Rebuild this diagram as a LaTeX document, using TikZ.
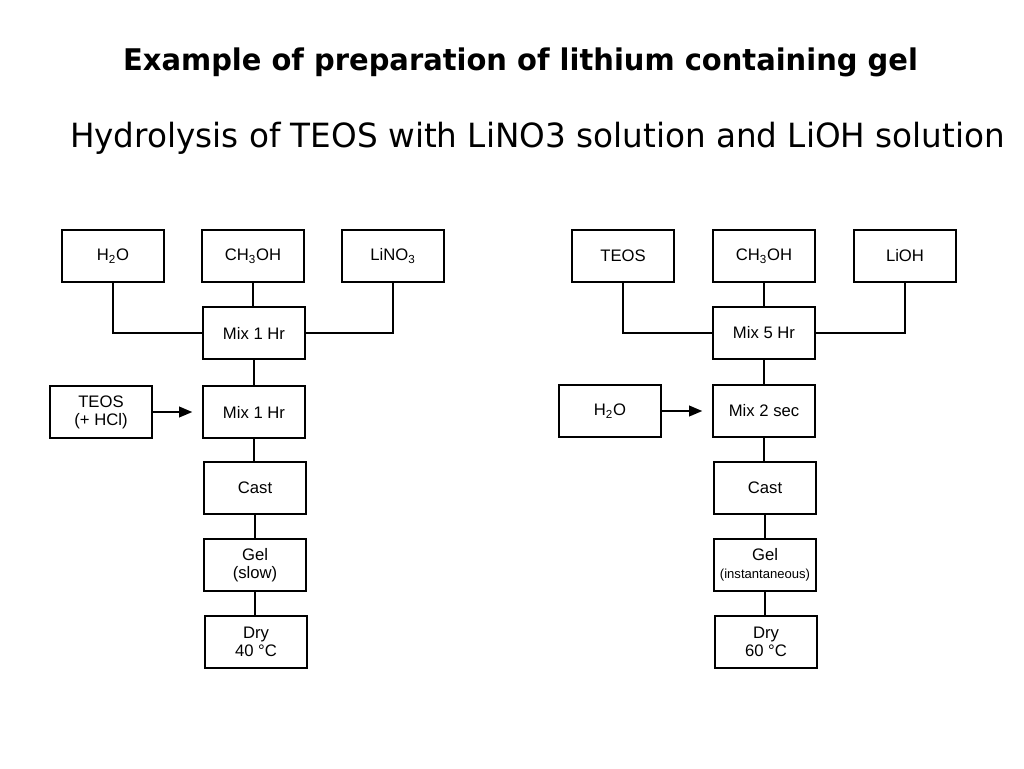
\documentclass[tikz,border=0pt]{standalone}
\usepackage{fontspec}
\usepackage{graphicx}
\setmainfont{Liberation Sans}
\newfontfamily\titlefont{DejaVu Sans}
\usetikzlibrary{arrows.meta}
\newcommand\boxfont{\fontsize{12.5pt}{13.5pt}\selectfont}
\begin{document}
\begin{tikzpicture}[x=0.75pt,y=-0.75pt,
  stepbox/.style={draw, line width=1.5pt, minimum width=77pt, minimum height=39pt,
    inner sep=0pt, align=center, font=\boxfont},
  link/.style={line width=1.5pt},
  feed/.style={line width=1.5pt, -{Triangle[length=10pt,width=8pt]}, shorten >=7pt}]
\useasboundingbox (0,0) rectangle (1024,768);
\node (title) at (520.5,62) {\resizebox{596pt}{17pt}{\titlefont\bfseries Example of preparation of lithium containing gel}};
\node (sub) at (537.5,138) {\resizebox{701pt}{19pt}{\titlefont Hydrolysis of TEOS with LiNO3 solution and LiOH solution}};

% left flow
\node[stepbox] (h2oL) at (113,256) {H\textsubscript{2}O};
\node[stepbox] (ch3L) at (253,256) {CH\textsubscript{3}OH};
\node[stepbox] (lino3) at (393,256) {LiNO\textsubscript{3}};
\node[stepbox] (mixA) at (254,333) {Mix 1 Hr};
\node[stepbox] (mixB) at (254,412) {Mix 1 Hr};
\node[stepbox] (teosL) at (101,412) {TEOS\\(+ HCl)};
\node[stepbox] (castL) at (255,488) {Cast};
\node[stepbox] (gelL) at (255,565) {Gel\\(slow)};
\node[stepbox] (dryL) at (256,642) {Dry\\40 °C};
\draw[link] (h2oL.south) |- (mixA.west);
\draw[link] (lino3.south) |- (mixA.east);
\draw[link] (ch3L.south) -- (ch3L.south |- mixA.north);
\draw[link] (mixA.south) -- (mixB.north);
\draw[feed] (teosL.east) -- (mixB.west);
\draw[link] (mixB.south) -- (mixB.south |- castL.north);
\draw[link] (castL.south) -- (gelL.north);
\draw[link] (gelL.south) -- (gelL.south |- dryL.north);

% right flow
\node[stepbox] (teosR) at (623,256) {TEOS};
\node[stepbox] (ch3R) at (764,256) {CH\textsubscript{3}OH};
\node[stepbox] (lioh) at (905,256) {LiOH};
\node[stepbox] (mixC) at (764,333) {Mix 5 Hr};
\node[stepbox] (mixD) at (764,411) {Mix 2 sec};
\node[stepbox] (h2oR) at (610,411) {H\textsubscript{2}O};
\node[stepbox] (castR) at (765,488) {Cast};
\node[stepbox] (gelR) at (765,565) {Gel\\{\fontsize{9.8pt}{11pt}\selectfont(instantaneous)}};
\node[stepbox] (dryR) at (766,642) {Dry\\60 °C};
\draw[link] (teosR.south) |- (mixC.west);
\draw[link] (lioh.south) |- (mixC.east);
\draw[link] (ch3R.south) -- (mixC.north);
\draw[link] (mixC.south) -- (mixD.north);
\draw[feed] (h2oR.east) -- (mixD.west);
\draw[link] (mixD.south) -- (mixD.south |- castR.north);
\draw[link] (castR.south) -- (castR.south |- gelR.north);
\draw[link] (gelR.south) -- (gelR.south |- dryR.north);
\end{tikzpicture}
\end{document}
